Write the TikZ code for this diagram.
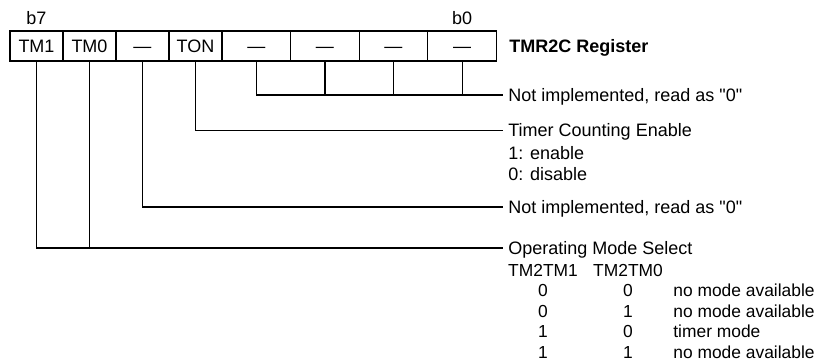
\documentclass[tikz,border=0pt]{standalone}
\usepackage{fontspec}
\setmainfont{Liberation Sans}[Ligatures=TeXOff]
\usetikzlibrary{positioning}
\tikzstyle{cell} = [rectangle, draw=black, line width=0.6pt, outer sep=0pt, inner sep=0pt, minimum height=15pt, text height=6.44pt, text depth=0pt]
\tikzstyle{narrow} = [cell, minimum width=26.5pt]
\tikzstyle{wide} = [cell, minimum width=34.3pt]
\tikzstyle{desc} = [anchor=west, inner xsep=2.5pt, inner ysep=0pt, text height=6.44pt, text depth=0pt]
\tikzstyle{entry} = [inner sep=0pt, text height=6.2pt, text depth=0pt, font=\fontsize{8.7}{10}\selectfont]
\tikzstyle{wire} = [line width=0.6pt]

\begin{document}
\begin{tikzpicture}[x=0.5pt, y=-0.5pt, font=\fontsize{9}{11}\selectfont]
\useasboundingbox (0,0) rectangle (827,363);
% register cells
\node (bit7) [narrow] at (36.5,46) {TM1};
\node (bit6) [narrow, right=0pt of bit7] {TM0};
\node (bit5) [narrow, right=0pt of bit6] {\textemdash};
\node (bit4) [narrow, right=0pt of bit5] {TON};
\node (bit3) [wide, right=0pt of bit4] {\textemdash};
\node (bit2) [wide, right=0pt of bit3] {\textemdash};
\node (bit1) [wide, right=0pt of bit2] {\textemdash};
\node (bit0) [wide, right=0pt of bit1] {\textemdash};
\node (lb7) [desc, anchor=south, inner xsep=0pt, above=3.25pt of bit7] {b7};
\node (lb0) [desc, anchor=south, inner xsep=0pt, above=3.25pt of bit0] {b0};
\node (title) [desc, font=\fontsize{9}{11}\selectfont\bfseries] at (504,46) {TMR2C Register};

% descriptions
\node (ni1) [desc] at (503,95) {Not implemented, read as "0"};
\node (ton) [desc] at (503,130.5) {Timer Counting Enable};
\node (en) [desc] at (503,153) {1: enable};
\node (dis) [desc] at (503,174) {0: disable};
\node (ni2) [desc] at (503,207) {Not implemented, read as "0"};
\node (oms) [desc] at (503,248) {Operating Mode Select};

% mode table
\node (hd1) [entry] at (543,270) {TM2TM1};
\node (hd2) [entry] at (628,270) {TM2TM0};
\foreach \a/\b/\txt [count=\i] in {0/0/no mode available, 0/1/no mode available, 1/0/timer mode, 1/1/no mode available} {
  \node (ma\i) [entry] at (543,270+20.5*\i) {\a};
  \node (mb\i) [entry] at (628,270+20.5*\i) {\b};
  \node (mt\i) [entry, anchor=west] at (673,270+20.5*\i) {\txt};
}

% connectors
\draw [wire] (bit3.south) |- (ni1.west);
\foreach \n in {2,1,0}
  \draw [wire] (bit\n.south) -- (bit\n.south |- ni1.west);
\draw [wire] (bit4.south) |- (ton.west);
\draw [wire] (bit5.south) |- (ni2.west);
\draw [wire] (bit7.south) |- (oms.west);
\draw [wire] (bit6.south) -- (bit6.south |- oms.west);
\end{tikzpicture}
\end{document}
